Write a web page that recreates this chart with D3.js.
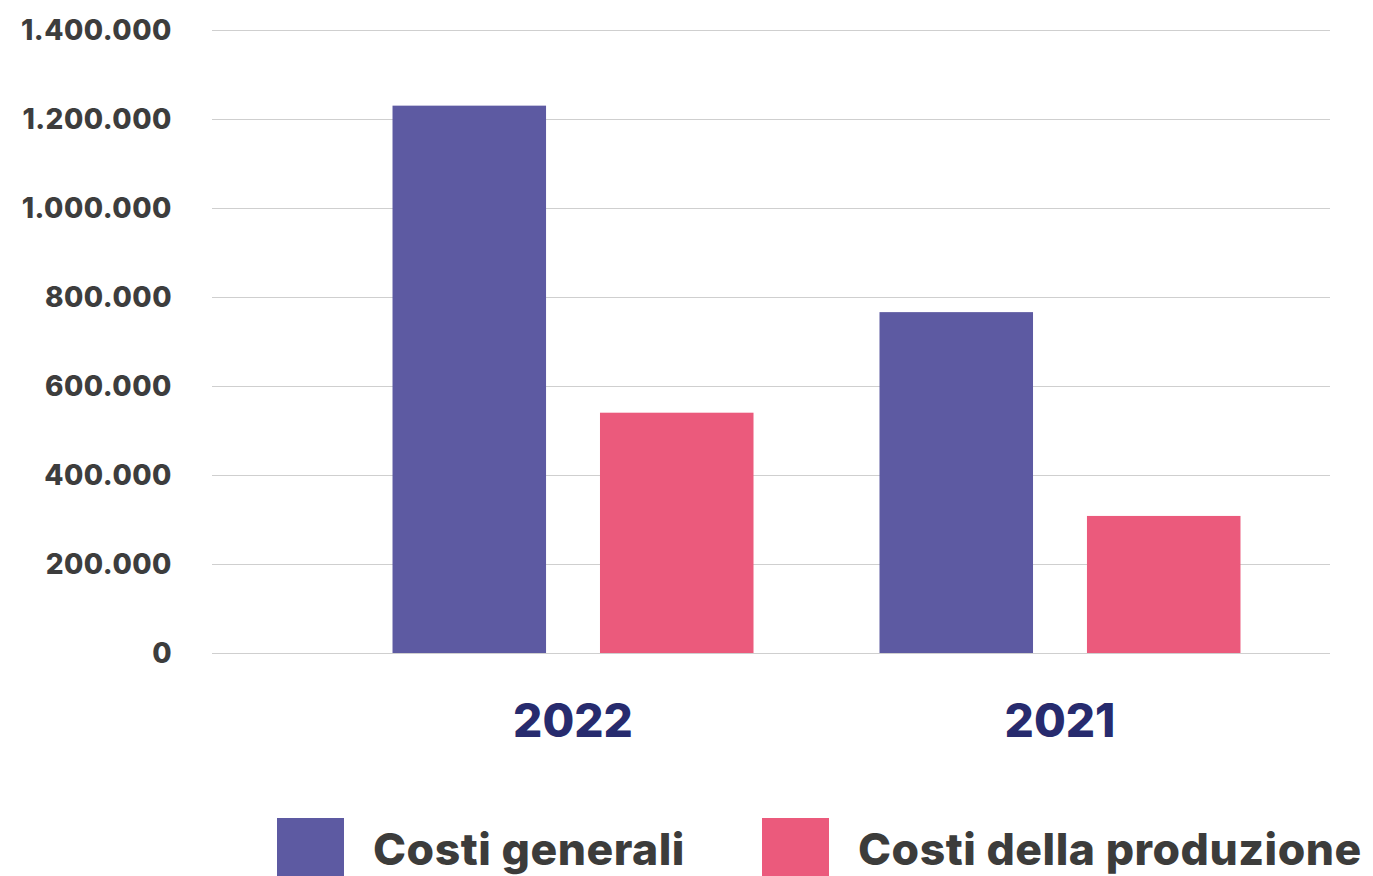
<!DOCTYPE html>
<html>
<head>
<meta charset="utf-8">
<script src="https://cdn.jsdelivr.net/npm/d3@7"></script>
<style>
  html, body { margin: 0; padding: 0; background: #fff; overflow: hidden; }
  svg { display: block; }
</style>
</head>
<body>
<svg id="chart" width="1373" height="876"></svg>
<script>
// Anni e serie
const years = ["2022", "2021"];
const seriesNames = ["Costi generali", "Costi della produzione"];
const costiGenerali = [1230000, 766000];
const costiProduzione = [540000, 308000];
const yTicks = [0, 200000, 400000, 600000, 800000, 1000000, 1200000, 1400000];
const seriesColors = ["#5d5aa2", "#eb5a7c"];

const rows = years.map((y, i) => ({ year: y, values: [costiGenerali[i], costiProduzione[i]] }));

const svg = d3.select("#chart");
const fmt = v => d3.format(",")(v).replace(/,/g, ".");

const y = d3.scaleLinear().domain([0, 1400000]).range([653, 30]);
const x0 = d3.scaleBand().domain(years).range([329.5, 1303.5])
  .paddingInner(0.2587).paddingOuter(0.1294);
const x1 = d3.scaleBand().domain(seriesNames).range([0, x0.bandwidth()])
  .paddingInner(0.26).paddingOuter(0);

// griglia orizzontale
svg.append("g")
  .selectAll("line")
  .data(yTicks)
  .join("line")
  .attr("x1", 212).attr("x2", 1330)
  .attr("y1", d => Math.round(y(d)) + 0.5)
  .attr("y2", d => Math.round(y(d)) + 0.5)
  .attr("stroke", "#cfcfcf")
  .attr("stroke-width", 1);

// etichette asse Y
svg.append("g")
  .selectAll("text")
  .data(yTicks)
  .join("text")
  .attr("x", 172)
  .attr("y", d => y(d))
  .attr("dy", "0.36em")
  .attr("text-anchor", "end")
  .attr("font-family", "Inter, 'Open Sans', sans-serif")
  .attr("font-weight", 800)
  .attr("font-size", 28)
  .attr("letter-spacing", 0.5)
  .attr("fill", "#3d3d3d")
  .text(fmt);

// barre
const groups = svg.append("g")
  .selectAll("g")
  .data(rows)
  .join("g")
  .attr("transform", d => `translate(${x0(d.year)},0)`);

groups.selectAll("rect")
  .data(d => d.values.map((v, i) => ({ name: seriesNames[i], value: v, i })))
  .join("rect")
  .attr("x", d => x1(d.name))
  .attr("width", x1.bandwidth())
  .attr("y", d => y(d.value))
  .attr("height", d => y(0) - y(d.value))
  .attr("fill", d => seriesColors[d.i]);

// etichette anni
svg.append("g")
  .selectAll("text")
  .data(years)
  .join("text")
  .attr("x", d => x0(d) + x0.bandwidth() / 2)
  .attr("y", 737)
  .attr("text-anchor", "middle")
  .attr("font-family", "Inter, 'Open Sans', sans-serif")
  .attr("font-weight", 800)
  .attr("font-size", 46)
  .attr("fill", "#272b6e")
  .text(d => d);

// legenda
const legendX = [277, 762];
const legend = svg.append("g")
  .selectAll("g")
  .data(seriesNames)
  .join("g")
  .attr("transform", (d, i) => `translate(${legendX[i]},818)`);

legend.append("rect")
  .attr("width", 67).attr("height", 70)
  .attr("fill", (d, i) => seriesColors[i]);

legend.append("text")
  .attr("x", 96)
  .attr("y", 47)
  .attr("font-family", "Inter, 'Open Sans', sans-serif")
  .attr("font-weight", 800)
  .attr("font-size", 44.5)
  .attr("letter-spacing", 0.5)
  .attr("fill", "#3c3c3b")
  .text(d => d);
</script>
</body>
</html>
